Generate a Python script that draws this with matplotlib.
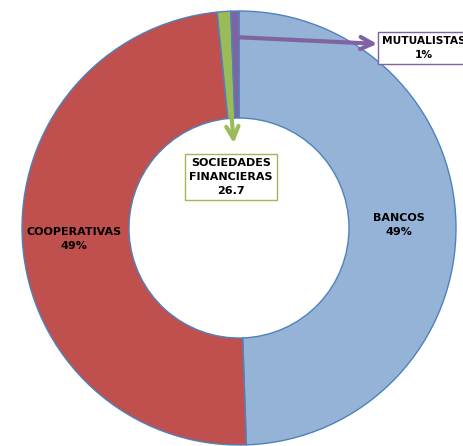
import numpy as np
import matplotlib.pyplot as plt

# participacion por tipo de entidad
entidades = ['BANCOS', 'COOPERATIVAS', 'SOCIEDADES\nFINANCIERAS', 'MUTUALISTAS']
valores = [1320, 1306, 26.7, 16]
colores = ['#95B3D7', '#C0504D', '#9BBB59', '#8064A2']
borde = '#4F81BD'

W, H = 464, 446
fig = plt.figure(figsize=(W / 100, H / 100), dpi=100)
ax = fig.add_axes([0, 0, 1, 1])

cx, cy, R = 239, H - 228, 217
wedges, _ = ax.pie(valores, colors=colores, startangle=90, counterclock=False,
                   center=(cx, cy), radius=R,
                   wedgeprops=dict(width=R - 110, edgecolor=borde, linewidth=1))
ax.set_xlim(0, W)
ax.set_ylim(0, H)
ax.set_aspect('equal')
ax.axis('off')

total = sum(valores)
pct = [v / total * 100 for v in valores]
fuente = dict(fontsize=8, fontweight='bold', color='black', ha='center',
              va='center', linespacing=1.5)

# etiquetas dentro del anillo para los dos grandes
for i in (0, 1):
    w = wedges[i]
    ang = np.deg2rad((w.theta1 + w.theta2) / 2)
    r = R * 0.75
    ax.text(cx + r * np.cos(ang) - 3, cy + r * np.sin(ang),
            f'{entidades[i]}\n{pct[i]:.0f}%', **fuente)

# sociedades financieras: caja y flecha hacia abajo
ax.text(231, H - 177, f'{entidades[2]}\n{valores[2]}', **fuente,
        bbox=dict(boxstyle='square,pad=0.35', fc='white', ec='#9BBB59', lw=1))
ax.annotate('', xy=(234, H - 146), xytext=(223, H - 12),
            arrowprops=dict(arrowstyle='->', color='#9BBB59', lw=3, mutation_scale=22))

# mutualistas: caja y flecha hacia la derecha
ax.text(424, H - 48, f'{entidades[3]}\n{pct[3]:.0f}%', **{**fuente, 'fontsize': 7.7},
        bbox=dict(boxstyle='square,pad=0.35', fc='white', ec='#8064A2', lw=1))
ax.annotate('', xy=(380, H - 44), xytext=(233, H - 37),
            arrowprops=dict(arrowstyle='->', color='#8064A2', lw=3, mutation_scale=22))

fig.savefig('out.png', dpi=100)
